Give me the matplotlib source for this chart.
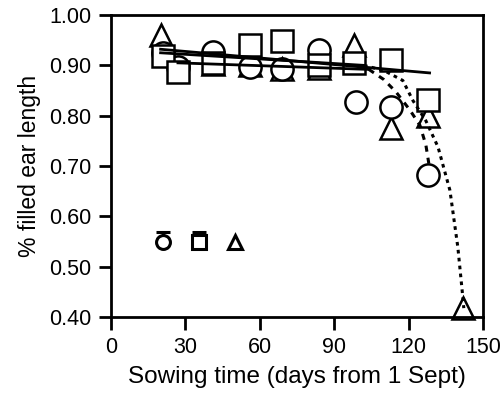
import matplotlib
matplotlib.use("Agg")
import matplotlib.pyplot as plt

plt.rcParams['font.family'] = ['Liberation Sans', 'DejaVu Sans']

# Data
circ_x = [21, 27, 41, 56, 69, 84, 99, 113, 128]
circ_y = [0.925, 0.897, 0.927, 0.897, 0.893, 0.930, 0.828, 0.818, 0.683]
sq_x = [21, 27, 41, 56, 69, 84, 98, 113, 128]
sq_y = [0.918, 0.886, 0.905, 0.940, 0.948, 0.900, 0.905, 0.910, 0.832]
tri_x = [20, 41, 56, 69, 84, 98, 113, 128, 142]
tri_y = [0.960, 0.902, 0.900, 0.893, 0.895, 0.940, 0.775, 0.800, 0.418]

# fitted lines
sq_fit_x = [20, 128.5]
sq_fit_y = [0.932, 0.885]
circ_lin_x = [27, 104]
circ_lin_y = [0.905, 0.892]
circ_curve_x = [104, 110, 115, 120.6, 124.6, 127, 128.2]
circ_curve_y = [0.892, 0.872, 0.847, 0.811, 0.781, 0.742, 0.705]
tri_lin_x = [20, 102]
tri_lin_y = [0.925, 0.900]
tri_curve_x = [102, 110, 117.7, 121.8, 127, 131.9, 136.7, 139.9, 141.9, 142.3]
tri_curve_y = [0.900, 0.890, 0.870, 0.830, 0.790, 0.738, 0.652, 0.539, 0.440, 0.418]

# LSD symbols
lsd_x = [21, 35.5, 50]
lsd_y = [0.549, 0.549, 0.549]
lsd_err = [0.02, 0.02, 0.0]

xticks = [0, 30, 60, 90, 120, 150]
yticks = [0.40, 0.50, 0.60, 0.70, 0.80, 0.90, 1.00]

fig = plt.figure(figsize=(5.03, 3.95), dpi=100)
ax = fig.add_axes([0.2207, 0.197, 0.7393, 0.765])

mk = dict(ls='none', mfc='white', mec='black', mew=1.8, clip_on=False)
ax.plot(tri_x, tri_y, marker='^', ms=16.5, zorder=2, **mk)
ax.plot(circ_x, circ_y, marker='o', ms=16, zorder=3, **mk)
ax.plot(sq_x, sq_y, marker='s', ms=15.5, zorder=4, **mk)

lw = 2.0
ax.plot(sq_fit_x, sq_fit_y, color='black', lw=lw, zorder=5)
ax.plot(circ_lin_x, circ_lin_y, color='black', lw=lw, zorder=5)
ax.plot(tri_lin_x, tri_lin_y, color='black', lw=lw, zorder=5)
ax.plot(circ_curve_x, circ_curve_y, color='black', lw=2.2, ls=(0, (2, 2)), zorder=5)
ax.plot(tri_curve_x, tri_curve_y, color='black', lw=2.2, ls=(0, (1.2, 1.4)), zorder=5)

markers = ['o', 's', '^']
for x, y, e, m in zip(lsd_x, lsd_y, lsd_err, markers):
    if e > 0:
        ax.errorbar([x], [y], yerr=[[0], [e]], fmt='none', ecolor='black',
                    elinewidth=2, capsize=5, capthick=2.2)
    ax.plot([x], [y], marker=m, ms=10, mfc='white', mec='black', mew=2.2, ls='none')

ax.set_xlim(0, 150)
ax.set_ylim(0.40, 1.00)
ax.set_xticks(xticks)
ax.set_xticklabels([str(t) for t in xticks])
ax.set_yticks(yticks)
ax.set_yticklabels([f"{t:.2f}" for t in yticks])
for s in ax.spines.values():
    s.set_linewidth(2)
ax.tick_params(direction='out', length=9, width=2, labelsize=15.5, pad=5)

ax.set_xlabel('Sowing time (days from 1 Sept)', fontsize=17.5, labelpad=6)
ax.set_ylabel('% filled ear length', fontsize=16.5, labelpad=6)

fig.savefig('out.png', dpi=100)
